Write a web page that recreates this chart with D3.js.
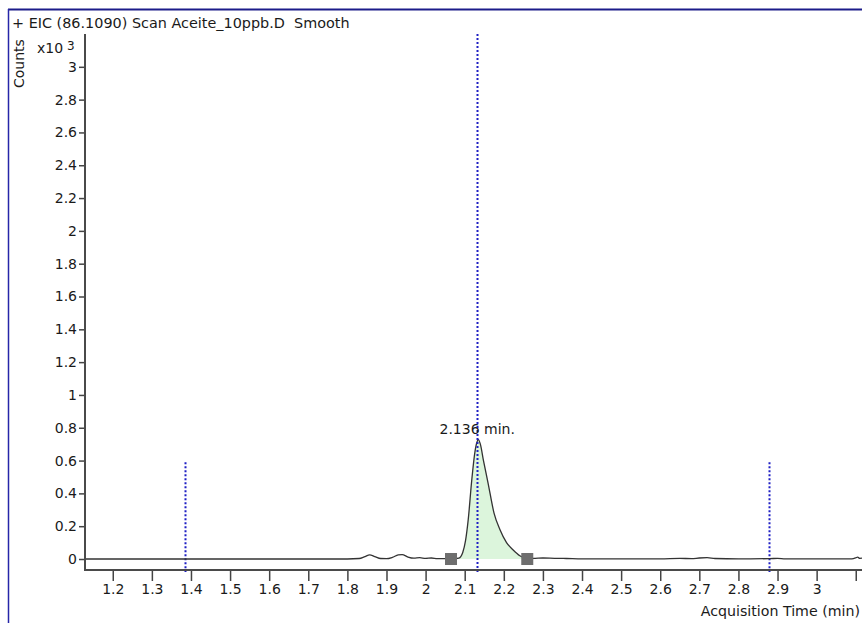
<!DOCTYPE html>
<html>
<head>
<meta charset="utf-8">
<script src="https://cdn.jsdelivr.net/npm/d3@7"></script>
<style>
  html, body { margin: 0; padding: 0; background: #fff; }
  svg text { font-family: "DejaVu Sans", sans-serif; white-space: pre; }
</style>
</head>
<body>
<div id="chart"></div>
<script>
// chromatogram trace, counts in x10^3
const times = [1.13, 1.80, 1.83, 1.845, 1.857, 1.87, 1.885, 1.90, 1.915, 1.93, 1.94, 1.955, 1.97, 1.985,
  2.00, 2.015, 2.03, 2.05, 2.065, 2.085, 2.095, 2.102, 2.109, 2.118, 2.126, 2.131, 2.135, 2.140, 2.148,
  2.160, 2.175, 2.190, 2.207, 2.224, 2.241, 2.26, 2.28, 2.30, 2.33, 2.36, 2.40, 2.60, 2.65, 2.68, 2.70,
  2.72, 2.74, 2.80, 2.88, 2.90, 2.92, 3.09, 3.10, 3.105, 3.11, 3.116];
const counts = [0, 0, 0.003, 0.015, 0.025, 0.015, 0.003, 0.002, 0.01, 0.025, 0.027, 0.012, 0.005, 0.008,
  0.004, 0.006, 0.002, 0.002, 0.001, 0.006, 0.04, 0.11, 0.24, 0.48, 0.65, 0.71, 0.728, 0.70, 0.60,
  0.46, 0.28, 0.18, 0.10, 0.055, 0.02, 0.003, 0.004, 0.006, 0.004, 0.003, 0.001, 0.001, 0.004, 0.002, 0.006,
  0.008, 0.003, 0.001, 0.002, 0.004, 0.001, 0.001, 0.007, 0.012, 0.004, 0.005];

const xTicks = [1.2, 1.3, 1.4, 1.5, 1.6, 1.7, 1.8, 1.9, 2, 2.1, 2.2, 2.3, 2.4, 2.5, 2.6, 2.7, 2.8, 2.9, 3, 3.1];
const xTickLabels = ["1.2", "1.3", "1.4", "1.5", "1.6", "1.7", "1.8", "1.9", "2", "2.1", "2.2", "2.3", "2.4",
  "2.5", "2.6", "2.7", "2.8", "2.9", "3", ""];
const yTicks = [0, 0.2, 0.4, 0.6, 0.8, 1, 1.2, 1.4, 1.6, 1.8, 2, 2.2, 2.4, 2.6, 2.8, 3];

// peak integration start / end, apex
const peakStart = 2.065;
const peakEnd = 2.26;
const peakApex = 2.132;
const peakLabel = "2.136 min.";
// dotted window lines [time, top value]
const windowLines = [[1.384, 0.59], [2.877, 0.59]];

const title = "+ EIC (86.1090) Scan Aceite_10ppb.D  Smooth";

const width = 862, height = 623;
const plot = { left: 85, right: 862, top: 34, bottom: 570 };

const svg = d3.select("#chart").append("svg")
  .attr("width", width)
  .attr("height", height);

const x = d3.scaleLinear().domain([1.129, 3.116]).range([plot.left, plot.right]);
const y = d3.scaleLinear().domain([-0.067, 3.2]).range([plot.bottom, plot.top]);

const data = times.map((t, i) => ({ t: t, v: counts[i] }));

// frame
svg.append("line")
  .attr("x1", 8).attr("x2", width).attr("y1", 9.5).attr("y2", 9.5)
  .attr("stroke", "#1c1c8a").attr("stroke-width", 2);
svg.append("line")
  .attr("x1", 8.5).attr("x2", 8.5).attr("y1", 9).attr("y2", height)
  .attr("stroke", "#2626a8").attr("stroke-width", 1.5);

// title
svg.append("text")
  .attr("x", 12).attr("y", 28)
  .attr("font-size", 14.4).attr("fill", "#1a1a1a")
  .text(title);

// peak fill
const peakData = data.filter(d => d.t >= peakStart && d.t <= peakEnd);
svg.append("path")
  .datum(peakData)
  .attr("fill", "#dcf5dc")
  .attr("d", d3.area().x(d => x(d.t)).y0(y(0)).y1(d => y(d.v)).curve(d3.curveMonotoneX));

// dotted lines
const dotted = (t, top) => svg.append("line")
  .attr("x1", Math.round(x(t)) + 0.5).attr("x2", Math.round(x(t)) + 0.5)
  .attr("y1", top).attr("y2", plot.bottom + 2)
  .attr("stroke", "#1f1fc4").attr("stroke-width", 2)
  .attr("stroke-dasharray", "2,2");
windowLines.forEach(w => dotted(w[0], y(w[1])));

// trace
svg.append("path")
  .datum(data)
  .attr("fill", "none")
  .attr("stroke", "#333")
  .attr("stroke-width", 1.3)
  .attr("d", d3.line().x(d => x(d.t)).y(d => y(d.v)).curve(d3.curveMonotoneX));

dotted(peakApex, plot.top);

// peak markers
svg.selectAll(".marker")
  .data([peakStart, peakEnd])
  .enter().append("rect")
  .attr("class", "marker")
  .attr("x", d => x(d) - 6).attr("y", y(0) - 6)
  .attr("width", 12).attr("height", 12)
  .attr("fill", "#6e6e6e");

svg.append("text")
  .attr("x", x(peakApex)).attr("y", 434)
  .attr("text-anchor", "middle")
  .attr("font-size", 14).attr("fill", "#1a1a1a")
  .text(peakLabel);

// axes
const yAxis = svg.append("g")
  .attr("transform", "translate(" + plot.left + ",0)")
  .call(d3.axisLeft(y).tickValues(yTicks).tickSize(6).tickPadding(2)
    .tickFormat(d => d3.format("")(+d.toFixed(1))));
const xAxis = svg.append("g")
  .attr("transform", "translate(0," + plot.bottom + ")")
  .call(d3.axisBottom(x).tickValues(xTicks).tickSize(11).tickPadding(3)
    .tickFormat((d, i) => xTickLabels[i]));

[yAxis, xAxis].forEach(ax => {
  ax.select(".domain").remove();
  ax.selectAll("line").attr("stroke", "#444").attr("stroke-width", 1.5);
  ax.selectAll("text").attr("font-size", 14).attr("font-family", "DejaVu Sans")
    .attr("fill", "#1a1a1a");
});

svg.append("path")
  .attr("d", "M" + plot.left + "," + plot.top + "V" + plot.bottom + "H" + plot.right)
  .attr("fill", "none").attr("stroke", "#4a4a4a").attr("stroke-width", 2);

// axis titles
svg.append("text")
  .attr("transform", "translate(24,88) rotate(-90)")
  .attr("font-size", 14).attr("fill", "#1a1a1a")
  .text("Counts");
const mult = svg.append("text")
  .attr("x", 37).attr("y", 53)
  .attr("font-size", 14).attr("fill", "#1a1a1a");
mult.append("tspan").text("x10");
mult.append("tspan").attr("dx", 4).attr("dy", -3).attr("font-size", 12).text("3");

svg.append("text")
  .attr("x", 860).attr("y", 616)
  .attr("text-anchor", "end")
  .attr("font-size", 14.2).attr("fill", "#1a1a1a")
  .text("Acquisition Time (min)");
</script>
</body>
</html>
